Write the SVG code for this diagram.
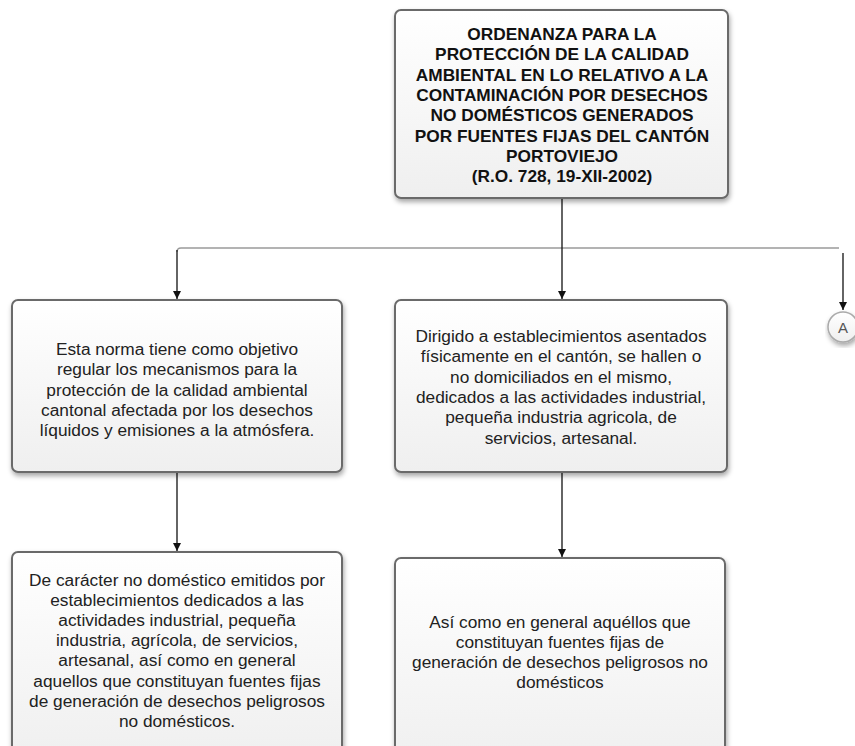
<svg xmlns="http://www.w3.org/2000/svg" width="855" height="746" viewBox="0 0 855 746">
<style>
.box{fill:url(#g);stroke:#6a6a6a;stroke-width:2;filter:url(#sh)}
.t{font-family:"Liberation Sans",Arial,sans-serif;font-size:17.3px;fill:#222;text-anchor:middle}
.tb{font-family:"Liberation Sans",Arial,sans-serif;font-size:17.3px;font-weight:bold;fill:#111;text-anchor:middle}
.ln{fill:none;stroke:#111;stroke-width:1.3}
.hl{fill:none;stroke:#9a9a9a;stroke-width:1.3}
</style>
<defs>
<linearGradient id="g" x1="0" y1="0" x2="0" y2="1">
<stop offset="0" stop-color="#ffffff"/>
<stop offset="1" stop-color="#efefef"/>
</linearGradient>
<filter id="sh" x="-10%" y="-10%" width="120%" height="130%">
<feDropShadow dx="1" dy="3" stdDeviation="2.5" flood-color="#000" flood-opacity="0.35"/>
</filter>
<marker id="ar" viewBox="0 0 10 10" refX="10" refY="5" markerWidth="8" markerHeight="8" markerUnits="userSpaceOnUse" orient="auto">
<path d="M0,0 L10,5 L0,10 z" fill="#111"/>
</marker>
</defs>
<rect width="855" height="746" fill="#fff"/>
<g id="connectors">
<path class="hl" d="M177,252 Q177,248 181,248 H839"/>
<path class="ln" d="M177,250 V299" marker-end="url(#ar)"/>
<path class="ln" d="M562,198 V299" marker-end="url(#ar)"/>
<path class="ln" d="M843,253 V310" marker-end="url(#ar)"/>
<path class="ln" d="M177,472 V551" marker-end="url(#ar)"/>
<path class="ln" d="M562,472 V557" marker-end="url(#ar)"/>
</g>
<g id="n-title">
<rect class="box" x="395" y="10" width="333" height="188" rx="6"/>
<text class="tb" x="562" y="40">ORDENANZA PARA LA</text>
<text class="tb" x="562" y="60.3">PROTECCIÓN DE LA CALIDAD</text>
<text class="tb" x="562" y="80.6">AMBIENTAL EN LO RELATIVO A LA</text>
<text class="tb" x="562" y="100.9">CONTAMINACIÓN POR DESECHOS</text>
<text class="tb" x="562" y="121.2">NO DOMÉSTICOS GENERADOS</text>
<text class="tb" x="562" y="141.5">POR FUENTES FIJAS DEL CANTÓN</text>
<text class="tb" x="562" y="161.8">PORTOVIEJO</text>
<text class="tb" x="562" y="182.1">(R.O. 728, 19-XII-2002)</text>
</g>
<g id="n-objetivo">
<rect class="box" x="12" y="300" width="330" height="172" rx="6"/>
<text class="t" x="177" y="355">Esta norma tiene como objetivo</text>
<text class="t" x="177" y="375.3">regular los mecanismos para la</text>
<text class="t" x="177" y="395.6">protección de la calidad ambiental</text>
<text class="t" x="177" y="415.9">cantonal afectada por los desechos</text>
<text class="t" x="177" y="436.2">líquidos y emisiones a la atmósfera.</text>
</g>
<g id="n-dirigido">
<rect class="box" x="395" y="300" width="332" height="172" rx="6"/>
<text class="t" x="561" y="342">Dirigido a establecimientos asentados</text>
<text class="t" x="561" y="362.3">físicamente en el cantón, se hallen o</text>
<text class="t" x="561" y="382.6">no domiciliados en el mismo,</text>
<text class="t" x="561" y="402.9">dedicados a las actividades industrial,</text>
<text class="t" x="561" y="423.2">pequeña industria agricola, de</text>
<text class="t" x="561" y="443.5">servicios, artesanal.</text>
</g>
<g id="n-caracter">
<rect class="box" x="12" y="552" width="330" height="210" rx="6"/>
<text class="t" x="177" y="586">De carácter no doméstico emitidos por</text>
<text class="t" x="177" y="606.1">establecimientos dedicados a las</text>
<text class="t" x="177" y="626.2">actividades industrial, pequeña</text>
<text class="t" x="177" y="646.3">industria, agrícola, de servicios,</text>
<text class="t" x="177" y="666.4">artesanal, así como en general</text>
<text class="t" x="177" y="686.5">aquellos que constituyan fuentes fijas</text>
<text class="t" x="177" y="706.6">de generación de desechos peligrosos</text>
<text class="t" x="177" y="726.7">no domésticos.</text>
</g>
<g id="n-asi">
<rect class="box" x="395" y="558" width="330" height="210" rx="6"/>
<text class="t" x="560" y="628">Así como en general aquéllos que</text>
<text class="t" x="560" y="648">constituyan fuentes fijas de</text>
<text class="t" x="560" y="668">generación de desechos peligrosos no</text>
<text class="t" x="560" y="688">domésticos</text>
</g>
<g id="n-A">
<circle cx="843" cy="327" r="15" fill="url(#g)" stroke="#aaa" stroke-width="1.5" filter="url(#sh)"/>
<text x="843" y="332.5" font-family="Liberation Sans, Arial, sans-serif" font-size="15" fill="#555" text-anchor="middle">A</text>
</g>
</svg>
